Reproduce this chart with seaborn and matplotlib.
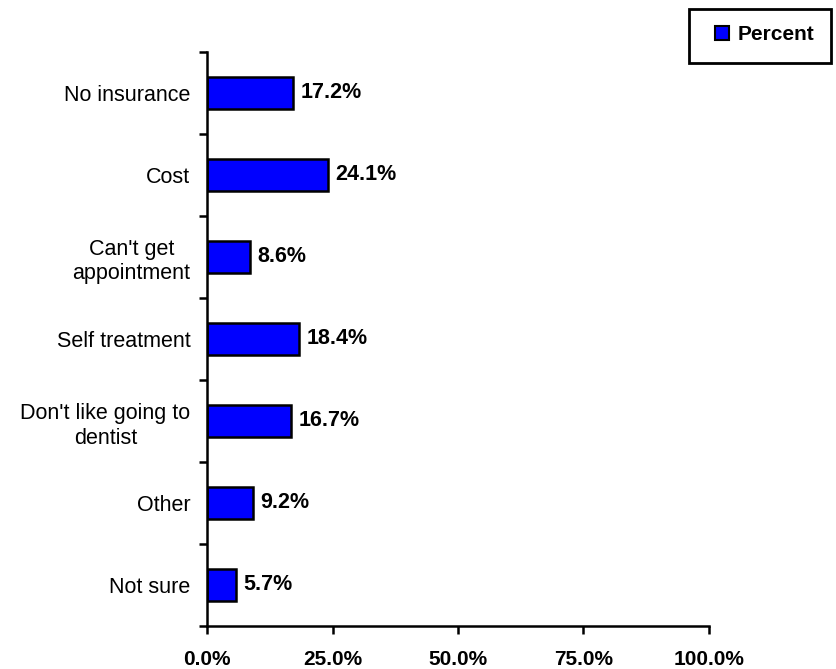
import matplotlib
matplotlib.use("Agg")
import matplotlib.pyplot as plt
import seaborn as sns
import pandas as pd
from matplotlib.patches import Patch, Rectangle
from matplotlib.ticker import FixedLocator

categories = ["No insurance", "Cost", "Can't get\nappointment", "Self treatment",
              "Don't like going to\ndentist", "Other", "Not sure"]
values = [17.2, 24.1, 8.6, 18.4, 16.7, 9.2, 5.7]
xticks = [0, 25, 50, 75, 100]
xticklabels = ["0.0%", "25.0%", "50.0%", "75.0%", "100.0%"]
series_name = "Percent"

sns.set_theme(style="white")
plt.rcParams['font.family'] = ['Liberation Sans', 'DejaVu Sans']
plt.rcParams['text.color'] = 'black'
plt.rcParams['xtick.color'] = 'black'
plt.rcParams['ytick.color'] = 'black'

df = pd.DataFrame({"cat": categories, "val": values})

fig = plt.figure(figsize=(8.36, 6.69), dpi=100)
ax = fig.add_axes([207/836, 1-626/669, (709-207)/836, (626-52)/669])

sns.barplot(data=df, x="val", y="cat", orient="h", color="#0000FF", saturation=1,
            edgecolor="black", linewidth=1.8, width=0.4, ax=ax)

ax.set_xlim(0, 100)
ax.set_ylim(len(categories) - 0.5, -0.5)
ax.set_xticks(xticks)
ax.set_xticklabels(xticklabels, fontsize=15, fontweight="bold", color="black")
ax.set_xlabel("")
ax.set_ylabel("")

ax.yaxis.set_minor_locator(FixedLocator([i - 0.5 for i in range(len(categories) + 1)]))
ax.tick_params(axis="y", which="major", length=0, pad=12, labelsize=15.5, labelcolor="black")
ax.tick_params(axis="y", which="minor", length=6, width=1.8, color="black", direction="out", left=True)
ax.tick_params(axis="x", which="major", length=6, width=1.8, color="black", direction="out", bottom=True, pad=11)
for lab in ax.get_yticklabels():
    lab.set_multialignment("center")
    lab.set_linespacing(1.25)

for s in ["top", "right"]:
    ax.spines[s].set_visible(False)
for s in ["left", "bottom"]:
    ax.spines[s].set_color("black")
    ax.spines[s].set_linewidth(1.8)

for i, v in enumerate(values):
    ax.text(v + 1.5, i, f"{v:.1f}%", va="center", ha="left", fontsize=15.5, fontweight="bold", color="black")

# legend frame
fig.add_artist(Rectangle((689/836, 1-63/669), (831-689)/836, (63-9)/669, transform=fig.transFigure,
                         facecolor="white", edgecolor="black", linewidth=2, zorder=5))
handle = Patch(facecolor="#0000FF", edgecolor="black", linewidth=1.5, label=series_name)
leg = fig.legend(handles=[handle], loc="center left", bbox_to_anchor=(715/836, 1-35/669),
                 frameon=False, prop={"weight": "bold", "size": 15},
                 handlelength=0.65, handleheight=0.65, handletextpad=0.45, borderpad=0, borderaxespad=0)
leg.set_zorder(6)

fig.savefig("out.png", dpi=100)
